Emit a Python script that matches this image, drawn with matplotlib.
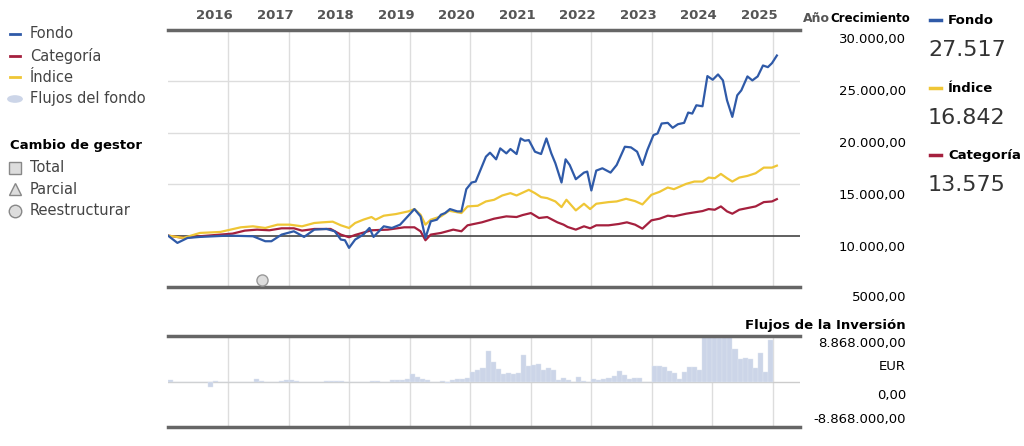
import matplotlib.pyplot as plt
from matplotlib.lines import Line2D
import numpy as np

plt.rcParams['font.family'] = ['Liberation Sans Narrow', 'DejaVu Sans']

# (x in zoom px, y in zoom px)
fondo = [(22,708),(45,730),(70,715),(100,712),(170,708),(230,710),(260,725),(275,725),(300,705),(330,695),
         (355,712),(380,690),(410,688),(430,695),(445,720),(455,722),(465,745),(480,720),(500,705),(515,685),
         (525,712),(550,680),(570,685),(590,675),(605,655),(625,628),(640,650),(652,715),(665,665),(680,660),
         (690,645),(700,640),(712,628),(730,635),(740,635),(752,568),(765,548),(775,545),(790,500),(800,470),
         (810,458),(825,478),(835,445),(850,460),(860,447),(875,462),(885,415),(895,422),(905,420),(920,455),
         (935,462),(948,415),(960,460),(970,490),(985,548),(995,478),(1005,495),(1020,538),(1040,518),(1048,515),
         (1058,572),(1070,512),(1085,505),(1105,518),(1120,495),(1140,440),(1155,442),(1170,455),(1183,495),
         (1195,450),(1210,405),(1220,400),(1230,370),(1245,368),(1257,383),(1270,372),(1285,368),(1295,337),
         (1305,340),(1315,315),(1330,318),(1342,227),(1355,238),(1368,222),(1380,240),(1390,300),(1403,350),
         (1415,285),(1425,270),(1440,228),(1452,240),(1465,228),(1478,195),(1490,200),(1500,188),(1512,165)]
indice = [(22,708),(60,715),(100,700),(150,697),(175,690),(200,683),(230,680),(260,685),(290,675),(320,675),
          (350,680),(380,670),(400,668),(425,666),(445,677),(465,685),(480,670),(500,660),(520,652),(530,660),
          (550,648),(580,643),(610,635),(625,628),(640,645),(652,675),(665,660),(690,650),(710,633),(740,640),
          (755,620),(780,618),(800,605),(820,600),(840,587),(860,580),(875,587),(905,570),(920,580),(935,592),
          (950,595),(970,605),(985,622),(997,600),(1020,632),(1040,612),(1055,628),(1070,612),(1100,607),
          (1120,605),(1143,597),(1165,604),(1183,614),(1205,585),(1225,576),(1245,563),(1260,568),(1290,552),
          (1310,545),(1330,545),(1345,533),(1360,535),(1375,522),(1390,535),(1403,545),(1420,533),(1440,528),
          (1460,520),(1480,503),(1500,503),(1512,497)]
categoria = [(22,708),(60,715),(100,710),(150,705),(180,702),(210,693),(240,690),(270,692),(300,686),(330,686),
             (350,693),(380,688),(420,688),(445,705),(465,713),(480,706),(520,692),(560,690),(600,683),(625,683),
             (640,695),(652,722),(665,705),(690,700),(720,690),(740,695),(755,677),(790,668),(820,657),(850,650),
             (875,652),(890,646),(910,640),(930,655),(950,652),(975,668),(990,675),(1000,682),(1020,690),(1040,680),
             (1055,686),(1070,677),(1100,677),(1125,673),(1145,668),(1165,675),(1183,687),(1205,662),(1225,657),
             (1245,648),(1260,650),(1290,642),(1310,638),(1330,634),(1345,628),(1360,630),(1375,620),(1390,635),
             (1403,642),(1420,630),(1440,625),(1460,620),(1480,607),(1500,605),(1512,598)]

def conv(pts):
    x = np.array([(p[0] - 22) / 148 for p in pts])
    y = np.array([10000 + (708 - p[1]) / 155 * 5000 for p in pts])
    return x, y

flujos = [0.3,0,0,0,0,0,0,0,-1.0,0.05,0,0,
          0,0,0,0,0,0.4,0.1,0,0,0,0.1,0.2,
          0.2,0.1,0,0,0,0,0,0.1,0.15,0.1,0.05,0,
          0,0,-0.05,0,0.1,0.1,0,0,0.2,0.2,0.3,0.5,
          1.4,0.8,0.4,0.3,0,0,0.1,-0.3,0.3,0.4,0.5,0.7,
          1.9,2.2,2.7,5.9,3.8,2.5,1.4,1.6,1.4,1.6,5.2,3.0,
          3.3,3.4,2.2,2.6,2.3,0.3,0.6,0.2,0.0,0.8,0.1,0.0,
          0.5,0.2,0.4,0.6,1.0,2.1,1.2,0.4,0.7,0.7,0.0,0.0,
          3.0,3.0,2.9,2.0,1.7,0.5,1.9,2.9,2.8,2.3,9.0,9.0,
          8.9,8.5,8.8,8.7,6.4,4.3,4.6,4.4,2.7,5.6,1.8,8.0]

blue, red, yellow = '#2f5aa8', '#a5203e', '#efc636'
W, H = 1024, 446
fig = plt.figure(figsize=(W / 100, H / 100), dpi=100)
xr = 10.45

ax = fig.add_axes([168 / W, 1 - 287 / H, (800 - 168) / W, 257 / H])
ax.set_xlim(0, xr)
ax.set_ylim(5000, 30000)
for yv in [15000, 20000, 25000]:
    ax.axhline(yv, color='#dddddd', lw=1, zorder=0)
for k in range(1, 11):
    ax.axvline(k, color='#dddddd', lw=1, zorder=0)
ax.axhline(10000, color='#444444', lw=1.2, zorder=1)
ax.axhline(30000, color='#666666', lw=2.5, clip_on=False)
ax.axhline(5000, color='#666666', lw=2.5, clip_on=False)
for s in ax.spines.values():
    s.set_visible(False)
ax.set_xticks([])
ax.set_yticks([])
for xs, col in [(conv(categoria), red), (conv(indice), yellow), (conv(fondo), blue)]:
    ax.plot(xs[0], xs[1], color=col, lw=1.6)
ax.plot([1.55], [5700], 'o', ms=8, mfc='#dddddd', mec='#999999', clip_on=False)
for k in range(1, 11):
    ax.text(k - 0.23, 30800, str(2015 + k), ha='center', va='bottom', fontsize=9.5,
            fontweight='bold', color='#555555')
fig.text(803 / W, 1 - 18 / H, 'Año', ha='left', va='center', fontsize=9, fontweight='bold', color='#555555')
fig.text(910 / W, 1 - 18 / H, 'Crecimiento', ha='right', va='center', fontsize=8.5, fontweight='bold')
for yy, lab in [(40, '30.000,00'), (92, '25.000,00'), (144, '20.000,00'),
                (195, '15.000,00'), (247, '10.000,00'), (298, '5000,00')]:
    fig.text(906 / W, 1 - yy / H, lab, ha='right', va='center', fontsize=9.5)

ax2 = fig.add_axes([168 / W, 1 - 427 / H, (800 - 168) / W, 91 / H])
ax2.set_xlim(0, xr)
ax2.set_ylim(-8.868, 8.868)
for k in range(1, 11):
    ax2.axvline(k, color='#dddddd', lw=1, zorder=0)
ax2.axhline(0, color='#cccccc', lw=1, zorder=0)
ax2.axhline(8.868, color='#666666', lw=2.5, clip_on=False)
ax2.axhline(-8.868, color='#666666', lw=2.5, clip_on=False)
ax2.bar(np.arange(len(flujos)) / 12, flujos, width=1 / 12, align='edge', color='#ccd5e8', ec='#dfe5f0', lw=0.3)
for s in ax2.spines.values():
    s.set_visible(False)
ax2.set_xticks([])
ax2.set_yticks([])
fig.text(906 / W, 1 - 325 / H, 'Flujos de la Inversión', ha='right', va='center', fontsize=9.5, fontweight='bold')
for yy, lab in [(343, '8.868.000,00'), (367, 'EUR'), (395, '0,00'), (419, '-8.868.000,00')]:
    fig.text(906 / W, 1 - yy / H, lab, ha='right', va='center', fontsize=9.5)

# left legend
for yy, col, lab in [(34, blue, 'Fondo'), (56, red, 'Categoría'), (77, yellow, 'Índice')]:
    fig.add_artist(Line2D([10 / W, 20 / W], [1 - yy / H] * 2, color=col, lw=2))
    fig.text(30 / W, 1 - yy / H, lab, va='center', fontsize=10.5, color='#444444')
fig.add_artist(plt.Circle((15 / W, 1 - 99 / H), 0.007, transform=fig.transFigure, color='#ccd5e8'))
fig.text(30 / W, 1 - 99 / H, 'Flujos del fondo', va='center', fontsize=10.5, color='#444444')
fig.text(10 / W, 1 - 145 / H, 'Cambio de gestor', va='center', fontsize=9.5, fontweight='bold')
fig.add_artist(Line2D([15 / W], [1 - 168 / H], marker='s', ms=9, mfc='#dddddd', mec='#888888'))
fig.add_artist(Line2D([15 / W], [1 - 189 / H], marker='^', ms=9, mfc='#dddddd', mec='#888888'))
fig.add_artist(Line2D([15 / W], [1 - 211 / H], marker='o', ms=9, mfc='#dddddd', mec='#888888'))
for yy, lab in [(168, 'Total'), (189, 'Parcial'), (211, 'Reestructurar')]:
    fig.text(30 / W, 1 - yy / H, lab, va='center', fontsize=10.5, color='#444444')

# right legend
for yy, col, lab, val in [(20, blue, 'Fondo', '27.517'), (88, yellow, 'Índice', '16.842'),
                          (155, red, 'Categoría', '13.575')]:
    fig.add_artist(Line2D([930 / W, 941 / W], [1 - yy / H] * 2, color=col, lw=2.5))
    fig.text(948 / W, 1 - yy / H, lab, va='center', fontsize=9.5, fontweight='bold')
    fig.text(928 / W, 1 - (yy + 30) / H, val, va='center', fontsize=16, color='#333333')

fig.savefig('out.png', dpi=100)
